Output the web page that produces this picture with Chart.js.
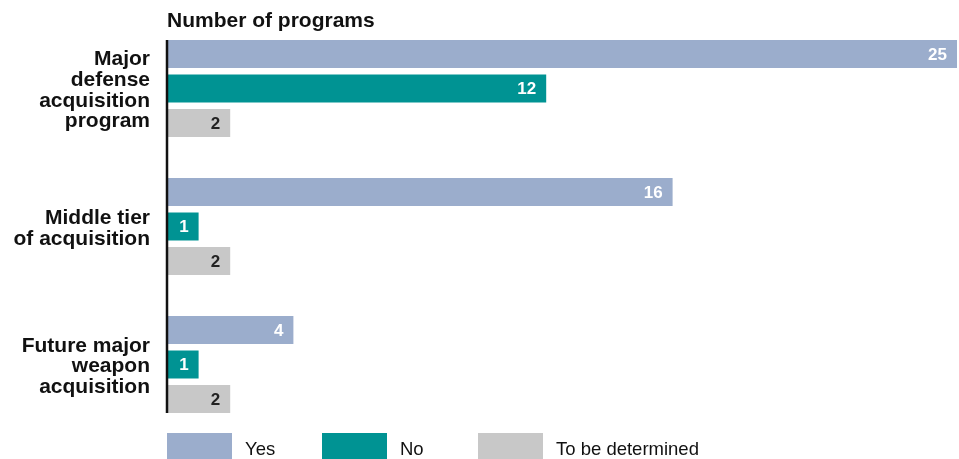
<!DOCTYPE html>
<html>
<head>
<meta charset="utf-8">
<script src="https://cdn.jsdelivr.net/npm/chart.js@4.4.0/dist/chart.umd.min.js"></script>
<style>
  html, body { margin: 0; padding: 0; background: #ffffff; }
  #wrap { position: relative; width: 959px; height: 459px; overflow: hidden; font-family: "Liberation Sans", Arial, sans-serif; }
  #c { position: absolute; left: 0; top: 0; }
  #title { position: absolute; left: 167px; top: 8px; font-weight: bold; font-size: 21px; color: #111; line-height: 24px; white-space: nowrap; }
  .lg { position: absolute; top: 433px; height: 26px; display: flex; align-items: flex-start; }
  .lg .sw { width: 65px; height: 26px; margin-right: 13px; }
  .lg .tx { font-size: 18.5px; color: #111; white-space: nowrap; line-height: 20px; padding-top: 6px; }
</style>
</head>
<body>
<div id="wrap">
  <canvas id="c" width="959" height="459"></canvas>
  <div id="title">Number of programs</div>
  <div id="legend"></div>
</div>
<script>
const categories = [
  ["Major", "defense", "acquisition", "program"],
  ["Middle tier", "of acquisition"],
  ["Future major", "weapon", "acquisition"]
];
const seriesNames = ["Yes", "No", "To be determined"];
const yesValues = [25, 16, 4];
const noValues = [12, 1, 1];
const tbdValues = [2, 2, 2];
const seriesColors = ["#9badcc", "#009393", "#c8c8c8"];
const labelColors = ["#ffffff", "#ffffff", "#222222"];
const xMax = 25;

const valueLabels = {
  id: 'valueLabels',
  afterDatasetsDraw(chart) {
    const ctx = chart.ctx;
    ctx.save();
    ctx.font = 'bold 17px "Liberation Sans", Arial, sans-serif';
    ctx.textAlign = 'right';
    ctx.textBaseline = 'middle';
    chart.data.datasets.forEach((ds, di) => {
      const meta = chart.getDatasetMeta(di);
      meta.data.forEach((bar, i) => {
        ctx.fillStyle = labelColors[di];
        ctx.fillText(String(ds.data[i]), bar.x - 10, bar.y + 1);
      });
    });
    // vertical axis line from first bar top to last bar bottom
    const first = chart.getDatasetMeta(0).data[0];
    const lastMeta = chart.getDatasetMeta(chart.data.datasets.length - 1);
    const last = lastMeta.data[lastMeta.data.length - 1];
    const xs = chart.scales.x.getPixelForValue(0);
    ctx.strokeStyle = '#111';
    ctx.lineWidth = 2.5;
    ctx.beginPath();
    ctx.moveTo(xs, first.y - first.height / 2);
    ctx.lineTo(xs, last.y + last.height / 2);
    ctx.stroke();
    ctx.restore();
  }
};

const datasets = [yesValues, noValues, tbdValues].map((vals, i) => ({
  label: seriesNames[i],
  data: vals,
  backgroundColor: seriesColors[i],
  borderWidth: 0,
  categoryPercentage: 0.75,
  barPercentage: 0.81
}));

new Chart(document.getElementById('c'), {
  type: 'bar',
  data: { labels: categories, datasets },
  plugins: [valueLabels],
  options: {
    indexAxis: 'y',
    responsive: false,
    animation: false,
    layout: { padding: { top: 19.5, bottom: 25.5, left: 0, right: 2 } },
    plugins: { legend: { display: false }, tooltip: { enabled: false }, title: { display: false } },
    scales: {
      x: { min: 0, max: xMax, display: false },
      y: {
        grid: { display: false, drawTicks: false },
        border: { display: false },
        afterFit(scale) { scale.width = 167; scale.paddingTop = 0; scale.paddingBottom = 0; },
        ticks: {
          padding: 17,
          labelOffset: 2,
          color: '#111',
          font: { family: '"Liberation Sans", Arial, sans-serif', size: 21, weight: 'bold', lineHeight: 0.98 }
        }
      }
    }
  }
});

const legend = document.getElementById('legend');
const legendX = [167, 322, 478];
seriesNames.forEach((name, i) => {
  const d = document.createElement('div');
  d.className = 'lg';
  d.style.left = legendX[i] + 'px';
  d.innerHTML = '<div class="sw" style="background:' + seriesColors[i] + '"></div><div class="tx">' + name + '</div>';
  legend.appendChild(d);
});
</script>
</body>
</html>
